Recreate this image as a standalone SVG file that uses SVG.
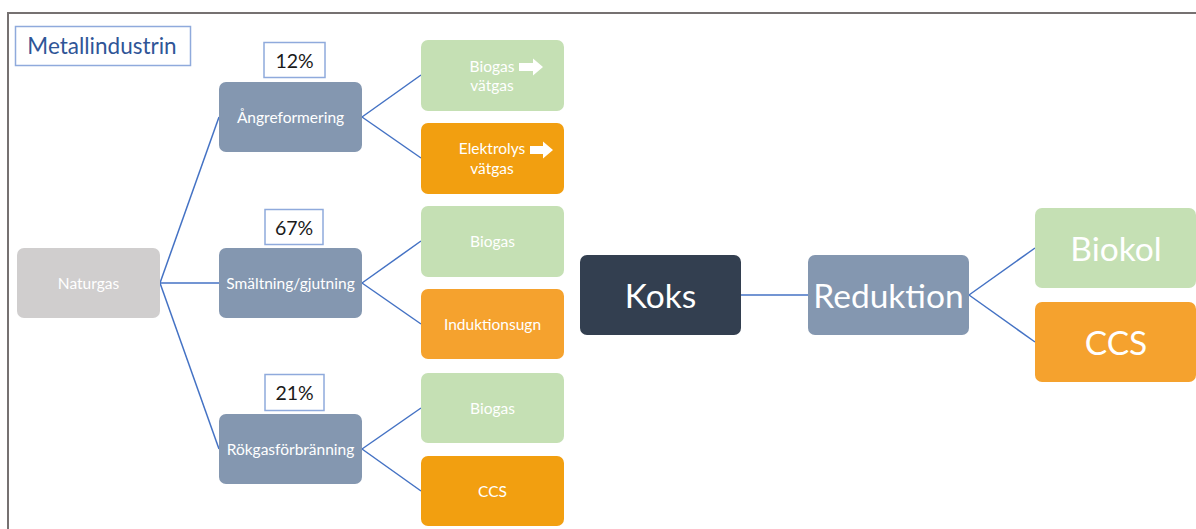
<svg xmlns="http://www.w3.org/2000/svg" width="1196" height="529" viewBox="0 0 1196 529">
  <style>
    text { font-family: Lato, "Open Sans", "Liberation Sans", sans-serif; text-anchor: middle; dominant-baseline: central; }
    .box { stroke: none; }
    .slate { fill: #8497b0; }
    .grey { fill: #d0cece; }
    .green { fill: #c5e0b4; }
    .orange { fill: #f29f10; }
    .amber { fill: #f5a22e; }
    .navy { fill: #333f50; }
    .lbl { fill: #ffffff; font-size: 15.5px; }
    .big { fill: #ffffff; font-size: 33.5px; }
    .pct { fill: #ffffff; stroke: #8faadc; stroke-width: 1.5; }
    .pcttxt { fill: #1a1a1a; font-size: 19.5px; }
    .link { stroke: #4472c4; stroke-width: 1.5; fill: none; }
    .arrow { fill: #ffffff; }
  </style>

  <rect width="1196" height="529" fill="#ffffff"/>
  <!-- outer frame -->
  <path d="M8 529 V13 H1196" fill="none" stroke="#767171" stroke-width="2"/>

  <!-- title -->
  <g id="title">
    <rect x="15.5" y="26.5" width="175" height="39" fill="#ffffff" stroke="#8faadc" stroke-width="1.5"/>
    <text x="102" y="45.5" style="fill:#2f5597;font-size:22.5px">Metallindustrin</text>
  </g>

  <!-- connectors -->
  <g id="connectors" class="link">
    <line x1="160" y1="283" x2="219" y2="117"/>
    <line x1="160" y1="283" x2="219" y2="283"/>
    <line x1="160" y1="283" x2="219" y2="449"/>
    <line x1="362" y1="117" x2="421" y2="75"/>
    <line x1="362" y1="117" x2="421" y2="158"/>
    <line x1="362" y1="283" x2="421" y2="241"/>
    <line x1="362" y1="283" x2="421" y2="324"/>
    <line x1="362" y1="449" x2="421" y2="408"/>
    <line x1="362" y1="449" x2="421" y2="491"/>
    <line x1="741" y1="295" x2="808" y2="295"/>
    <line x1="969" y1="295" x2="1035" y2="248"/>
    <line x1="969" y1="295" x2="1035" y2="342"/>
  </g>

  <!-- source -->
  <g id="naturgas">
    <rect class="box grey" x="17" y="248" width="143" height="70" rx="7"/>
    <text class="lbl" x="88.5" y="283">Naturgas</text>
  </g>

  <!-- processes with shares -->
  <g id="angreformering">
    <rect class="pct" x="264" y="42.5" width="61" height="35"/>
    <text class="pcttxt" x="294.5" y="60">12%</text>
    <rect class="box slate" x="219" y="82" width="143" height="70" rx="7"/>
    <text class="lbl" x="290.5" y="117">Ångreformering</text>
  </g>
  <g id="smaltning">
    <rect class="pct" x="265" y="209.5" width="58" height="35"/>
    <text class="pcttxt" x="294" y="227">67%</text>
    <rect class="box slate" x="219" y="248" width="143" height="70" rx="7"/>
    <text class="lbl" x="290.5" y="283">Smältning/gjutning</text>
  </g>
  <g id="rokgas">
    <rect class="pct" x="265" y="374.5" width="59" height="36"/>
    <text class="pcttxt" x="294.5" y="392">21%</text>
    <rect class="box slate" x="219" y="414" width="143" height="70" rx="7"/>
    <text class="lbl" x="290.5" y="449">Rökgasförbränning</text>
  </g>

  <!-- alternatives -->
  <g id="biogas-vatgas">
    <rect class="box green" x="421" y="40" width="143" height="71" rx="7"/>
    <text class="lbl" x="492" y="66">Biogas</text>
    <path class="arrow" d="M519 63 h14 v-4.5 l10 8.5 l-10 8.5 v-4.5 h-14 z"/>
    <text class="lbl" x="492" y="85">vätgas</text>
  </g>
  <g id="elektrolys">
    <rect class="box orange" x="421" y="123" width="143" height="71" rx="7"/>
    <text class="lbl" x="492" y="148">Elektrolys</text>
    <path class="arrow" d="M530 146 h13 v-4.5 l10 8.5 l-10 8.5 v-4.5 h-13 z"/>
    <text class="lbl" x="492" y="168">vätgas</text>
  </g>
  <g id="biogas-2">
    <rect class="box green" x="421" y="206" width="143" height="71" rx="7"/>
    <text class="lbl" x="492.5" y="241">Biogas</text>
  </g>
  <g id="induktionsugn">
    <rect class="box amber" x="421" y="289" width="143" height="70" rx="7"/>
    <text class="lbl" x="492.5" y="324">Induktionsugn</text>
  </g>
  <g id="biogas-3">
    <rect class="box green" x="421" y="373" width="143" height="70" rx="7"/>
    <text class="lbl" x="492.5" y="408">Biogas</text>
  </g>
  <g id="ccs-small">
    <rect class="box orange" x="421" y="456" width="143" height="70" rx="7"/>
    <text class="lbl" x="492.5" y="491">CCS</text>
  </g>

  <!-- coke route -->
  <g id="koks">
    <rect class="box navy" x="580" y="255" width="161" height="80" rx="7"/>
    <text class="big" x="660.5" y="295">Koks</text>
  </g>
  <g id="reduktion">
    <rect class="box slate" x="808" y="255" width="161" height="80" rx="7"/>
    <text class="big" x="888.5" y="295">Reduktion</text>
  </g>
  <g id="biokol">
    <rect class="box green" x="1035" y="208" width="161" height="80" rx="7"/>
    <text class="big" x="1116" y="248">Biokol</text>
  </g>
  <g id="ccs-big">
    <rect class="box amber" x="1035" y="302" width="161" height="80" rx="7"/>
    <text class="big" x="1116" y="342">CCS</text>
  </g>
</svg>
